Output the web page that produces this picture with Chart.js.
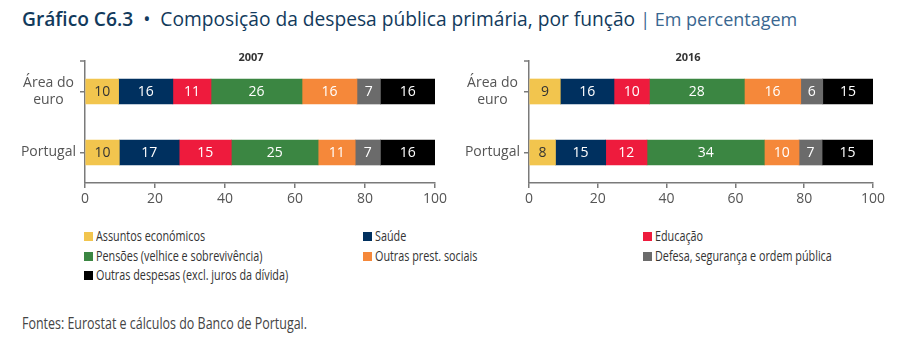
<!DOCTYPE html>
<html>
<head>
<meta charset="utf-8">
<script src="https://cdn.jsdelivr.net/npm/chart.js@4/dist/chart.umd.min.js"></script>
<style>
  html,body{margin:0;padding:0;background:#fff;}
  body{width:900px;height:349px;position:relative;overflow:hidden;font-family:"Open Sans",sans-serif;}
  #title{position:absolute;left:22px;top:5px;font-size:19.2px;color:#123a5c;white-space:nowrap;}
  #title b{font-weight:600;}
  #title .sub{color:#3a6790;font-size:18px;}
  canvas{position:absolute;}
  #legend{position:absolute;left:84px;top:226px;width:820px;}
  .item{position:absolute;white-space:nowrap;font-family:"Open Sans",sans-serif;font-size:15px;color:#333;line-height:19px;}
  .item .txt{display:inline-block;transform:scaleX(0.72);transform-origin:0 50%;}
  .sw{display:inline-block;width:9px;height:9px;margin-right:3px;vertical-align:0px;}
  #source{position:absolute;left:22px;top:311px;font-family:"Open Sans",sans-serif;font-size:16.5px;color:#444;white-space:nowrap;transform:scaleX(0.755);transform-origin:0 50%;}
</style>
</head>
<body>
<div id="title"><b>Gráfico C6.3</b> &nbsp;•&nbsp; Composição da despesa pública primária, por função <span class="sub">| Em percentagem</span></div>
<canvas id="c1" width="470" height="175" style="left:0;top:40px;"></canvas>
<canvas id="c2" width="450" height="175" style="left:450px;top:40px;"></canvas>
<div id="legend"></div>
<div id="source">Fontes: Eurostat e cálculos do Banco de Portugal.</div>
<script>
// ---- data ----
const categories = [['Área do', 'euro'], 'Portugal'];
const seriesNames = ['Assuntos económicos', 'Saúde', 'Educação', 'Pensões (velhice e sobrevivência)', 'Outras prest. sociais', 'Defesa, segurança e ordem pública', 'Outras despesas (excl. juros da dívida)'];
const panelTitles = ['2007', '2016'];
const euro2007 = [9.6, 15.5, 10.9, 26.0, 15.7, 6.7, 15.6];
const portugal2007 = [9.8, 17.1, 14.9, 24.8, 10.6, 7.2, 15.6];
const euro2016 = [9.1, 15.6, 10.3, 27.6, 16.4, 6.4, 14.6];
const portugal2016 = [7.7, 14.6, 12.0, 34.1, 10.1, 6.7, 14.8];
const xTicks = [0, 20, 40, 60, 80, 100];

// ---- styles ----
const colors = ['#F2C54E', '#00305F', '#EE1B3D', '#3B8642', '#F5883A', '#6B6B6B', '#000000'];
const labelColors = ['#333333', '#ffffff', '#ffffff', '#ffffff', '#ffffff', '#ffffff', '#ffffff'];
const AXIS = '#7a7a7a';

Chart.defaults.font.family = "'Open Sans', sans-serif";

const barLabels = {
  id: 'barLabels',
  afterDatasetsDraw(chart) {
    const ctx = chart.ctx;
    ctx.save();
    ctx.font = "14px 'Open Sans', sans-serif";
    ctx.textAlign = 'center';
    ctx.textBaseline = 'middle';
    chart.data.datasets.forEach((ds, i) => {
      const meta = chart.getDatasetMeta(i);
      meta.data.forEach((el, j) => {
        const p = el.getProps(['x', 'y', 'base'], true);
        ctx.fillStyle = ds.labelColor;
        ctx.fillText(String(Math.round(ds.data[j])), (p.x + p.base) / 2, p.y + 1);
      });
    });
    ctx.restore();
  }
};

const panelDecor = {
  id: 'panelDecor',
  afterDraw(chart, args, opts) {
    const ctx = chart.ctx, a = chart.chartArea;
    ctx.save();
    ctx.font = "bold 11px 'Open Sans', sans-serif";
    ctx.fillStyle = '#333';
    ctx.textAlign = 'center';
    ctx.textBaseline = 'middle';
    ctx.fillText(opts.text, opts.x, opts.y);
    ctx.strokeStyle = AXIS;
    ctx.lineWidth = 1.5;
    ctx.beginPath();
    ctx.moveTo(a.left - 5, a.top);
    ctx.lineTo(a.left, a.top);
    ctx.stroke();
    ctx.restore();
  }
};

function makeChart(id, euroVals, ptVals, title, titleX, yAxisWidth, padRight) {
  const datasets = seriesNames.map((name, i) => ({
    label: name,
    data: [euroVals[i], ptVals[i]],
    backgroundColor: colors[i],
    labelColor: labelColors[i],
    borderWidth: 0,
    barThickness: 25
  }));
  return new Chart(document.getElementById(id), {
    type: 'bar',
    data: { labels: categories, datasets },
    options: {
      indexAxis: 'y',
      responsive: false,
      animation: false,
      layout: { padding: { top: 21, right: padRight, left: 0, bottom: 0 } },
      plugins: {
        legend: { display: false },
        tooltip: { enabled: false },
        panelDecor: { text: title, x: titleX, y: 18 }
      },
      scales: {
        x: {
          stacked: true, min: 0, max: 100,
          afterBuildTicks(s) { s.ticks = xTicks.map(v => ({ value: v })); },
          ticks: { color: '#555', font: { size: 14 }, padding: 3 },
          grid: { drawOnChartArea: false, drawTicks: true, tickLength: 5, color: AXIS, lineWidth: 1.5 },
          border: { color: AXIS, width: 1.5 },
          afterFit(s) { s.height = 32; }
        },
        y: {
          stacked: true,
          ticks: { crossAlign: 'center', padding: 4, color: '#555', font: { size: 14, lineHeight: 1.15 } },
          grid: { drawOnChartArea: false, offset: false, drawTicks: true, tickLength: 5, color: AXIS, lineWidth: 1.5 },
          border: { color: AXIS, width: 1.5 },
          afterFit(s) { s.width = yAxisWidth; }
        }
      }
    },
    plugins: [barLabels, panelDecor]
  });
}

makeChart('c1', euro2007, portugal2007, panelTitles[0], 251, 85, 35);
makeChart('c2', euro2016, portugal2016, panelTitles[1], 238, 79, 27);

// ---- legend (HTML, built from the series arrays) ----
const legend = document.getElementById('legend');
const colX = [0, 279, 559];
seriesNames.forEach((name, i) => {
  const d = document.createElement('div');
  d.className = 'item';
  d.style.left = colX[i % 3] + 'px';
  d.style.top = (Math.floor(i / 3) * 19.7) + 'px';
  d.innerHTML = '<span class="sw" style="background:' + colors[i] + '"></span><span class="txt">' + name + '</span>';
  legend.appendChild(d);
});
</script>
</body>
</html>
